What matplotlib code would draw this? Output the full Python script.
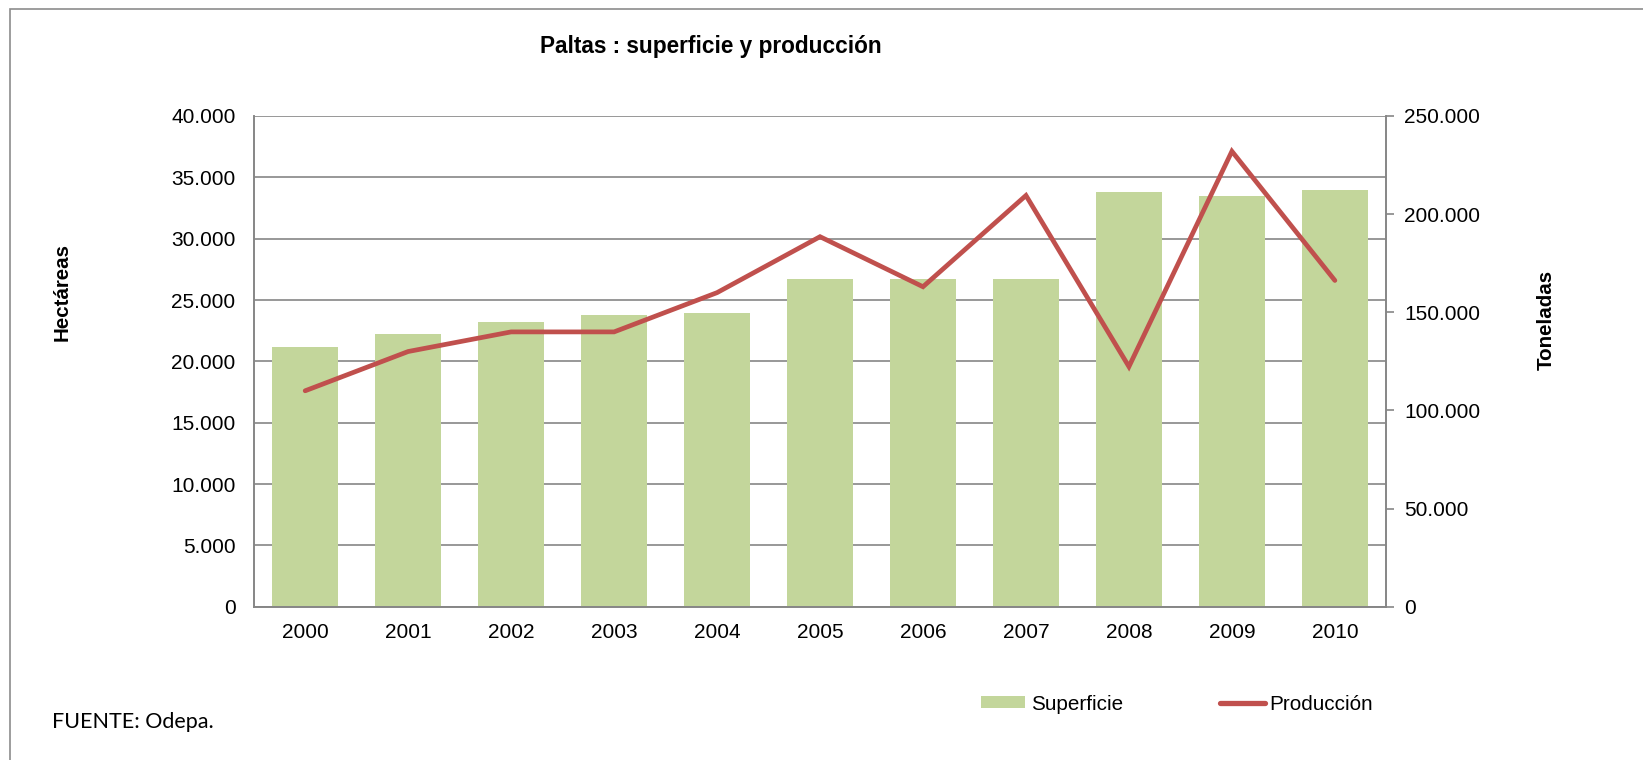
import matplotlib
matplotlib.use("Agg")
import matplotlib.pyplot as plt
from matplotlib.patches import Rectangle, Patch
from matplotlib.lines import Line2D
from matplotlib.ticker import FuncFormatter, MultipleLocator

# --- data ---
years = ["2000", "2001", "2002", "2003", "2004", "2005",
         "2006", "2007", "2008", "2009", "2010"]
superficie = [21200, 22200, 23200, 23750, 23950, 26700,
              26700, 26700, 33800, 33500, 34000]          # hectáreas
produccion = [110000, 130000, 140000, 140000, 160000, 188500,
              163000, 209500, 122300, 232000, 166200]     # toneladas

BAR_COLOR = "#C3D69B"
LINE_COLOR = "#C0504D"
GRID_COLOR = "#868686"
FONT = "Liberation Sans"


def miles(v, _):
    return f"{int(round(v)):,}".replace(",", ".")


fig = plt.figure(figsize=(16.43, 7.6), dpi=100)
fig.patch.set_facecolor("white")
ax = fig.add_axes([0.1544, 0.2017, 0.6894, 0.6457])
ax2 = ax.twinx()

x = range(len(years))
ax.bar(x, superficie, width=0.645, color=BAR_COLOR, zorder=2)
ax2.plot(x, produccion, color=LINE_COLOR, linewidth=3.4, solid_capstyle="round",
         solid_joinstyle="miter", zorder=3)

ax.set_xlim(-0.5, len(years) - 0.5)
ax.set_ylim(0, 40000)
ax2.set_ylim(0, 250000)
ax.yaxis.set_major_locator(MultipleLocator(5000))
ax2.yaxis.set_major_locator(MultipleLocator(50000))
ax.yaxis.set_major_formatter(FuncFormatter(miles))
ax2.yaxis.set_major_formatter(FuncFormatter(miles))

ax.set_xticks(list(x))
ax.set_xticklabels(years)
ax.grid(axis="y", color=GRID_COLOR, linewidth=1.2, zorder=1)
ax.set_axisbelow(True)

for a in (ax, ax2):
    for s in a.spines.values():
        s.set_color(GRID_COLOR)
        s.set_linewidth(1.2)
    a.spines["top"].set_visible(False)

ax.tick_params(axis="x", length=0, pad=12, labelsize=15)
ax.tick_params(axis="y", length=0, pad=13, labelsize=15)
ax2.tick_params(axis="y", length=6, width=1.2, color=GRID_COLOR, pad=7,
                labelsize=15)
for lab in ax.get_xticklabels() + ax.get_yticklabels() + ax2.get_yticklabels():
    lab.set_fontfamily(FONT)

# titles and axis names
fig.text(711 / 1643, 1 - 46 / 760, "Paltas : superficie y producción",
         ha="center", va="center", fontsize=16.3, fontweight="bold", family=FONT)
fig.text(62 / 1643, 1 - 292 / 760, "Hectáreas", rotation=90, ha="center",
         va="center", fontsize=14.8, fontweight="bold", family=FONT)
fig.text(1546 / 1643, 1 - 320 / 760, "Toneladas", rotation=90, ha="center",
         va="center", fontsize=14.8, fontweight="bold", family=FONT)
fig.text(52 / 1643, 1 - 722 / 760, "FUENTE: Odepa.", ha="left", va="center",
         fontsize=15.5, family="Lato")

# legend
handles = [Patch(facecolor=BAR_COLOR, edgecolor="none", label="Superficie"),
           Line2D([0], [0], color=LINE_COLOR, linewidth=3.8,
                  solid_capstyle="round", label="Producción")]
fig.legend(handles=handles, loc="center left",
           bbox_to_anchor=(981 / 1643, 1 - 704 / 760), ncol=2, frameon=False,
           prop={"family": FONT, "size": 14.9}, handlelength=2.15,
           handleheight=0.5, handletextpad=0.25, columnspacing=4.7,
           borderpad=0, borderaxespad=0)

# outer chart border
fig.add_artist(Rectangle((10 / 1643, -0.05), 1.1, 1.05 - 8.5 / 760,
                         transform=fig.transFigure, fill=False,
                         edgecolor="#8C8C8C", linewidth=1.2))

fig.savefig("out.png", dpi=100, facecolor="white")
